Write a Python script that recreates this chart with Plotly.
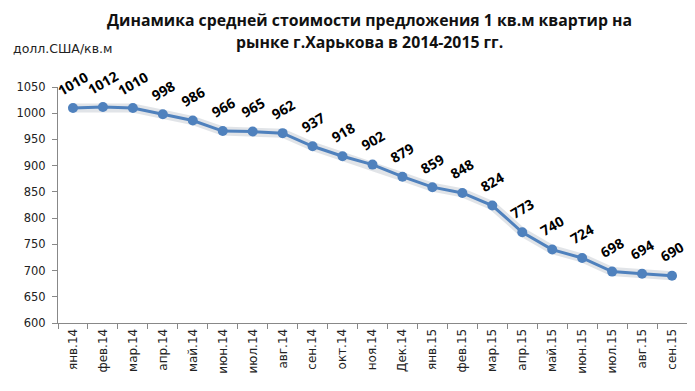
import plotly.graph_objects as go

months = ["янв.14", "фев.14", "мар.14", "апр.14", "май.14", "июн.14", "июл.14", "авг.14",
          "сен.14", "окт.14", "ноя.14", "Дек.14", "янв.15", "фев.15", "мар.15", "апр.15",
          "май.15", "июн.15", "июл.15", "авг.15", "сен.15"]
prices = [1010, 1012, 1010, 998, 986, 966, 965, 962, 937, 918, 902, 879, 859, 848, 824,
          773, 740, 724, 698, 694, 690]
y_ticks = [600, 650, 700, 750, 800, 850, 900, 950, 1000, 1050]
title_lines = ["Динамика средней стоимости предложения 1 кв.м квартир на",
               "рынке г.Харькова в 2014-2015 гг."]

fig = go.Figure()
# soft shadow under the line
fig.add_trace(go.Scatter(x=months, y=prices, mode="lines",
                         line=dict(color="rgba(120,130,150,0.22)", width=9),
                         hoverinfo="skip", showlegend=False))
fig.add_trace(go.Scatter(x=months, y=prices, mode="lines+markers",
                         line=dict(color="#4f81bd", width=3),
                         marker=dict(color="#4f81bd", size=10),
                         showlegend=False))

for m, v in zip(months, prices):
    fig.add_annotation(x=m, y=v, xref="x", yref="y", text=f"<b>{v}</b>",
                       showarrow=False, textangle=-30, yshift=24, xshift=0,
                       font=dict(family="Open Sans", size=14, color="#000000"))

for i, line in enumerate(title_lines):
    fig.add_annotation(text=f"<b>{line}</b>", xref="paper", yref="paper",
                       x=0.495, y=[1.285, 1.19][i], xanchor="center", yanchor="middle",
                       showarrow=False,
                       font=dict(family="Open Sans", size=15.8, color="#111111"))

fig.add_annotation(text="долл.США/кв.м", xref="paper", yref="paper", x=-0.074, y=1.165,
                   xanchor="left", yanchor="middle", showarrow=False,
                   font=dict(family="DejaVu Sans", size=12.5, color="#222222"))

fig.update_layout(
    width=687, height=383,
    margin=dict(l=47, r=8, t=79, b=68),
    paper_bgcolor="white", plot_bgcolor="white",
)
fig.update_xaxes(type="category", tickangle=-90, showline=True, linecolor="#888888",
                 ticks="outside", tickson="boundaries", ticklen=5, tickcolor="#888888",
                 showgrid=False, range=[-0.5, len(months) - 0.5],
                 tickfont=dict(family="DejaVu Sans", size=12, color="#222222"))
fig.update_yaxes(range=[600, 1050], tickvals=y_ticks, showline=True, linecolor="#888888",
                 ticks="outside", ticklen=5, tickcolor="#888888", showgrid=False,
                 zeroline=False, ticklabelstandoff=4,
                 tickfont=dict(family="DejaVu Sans", size=11.5, color="#222222"))

fig.write_html("out.html")
